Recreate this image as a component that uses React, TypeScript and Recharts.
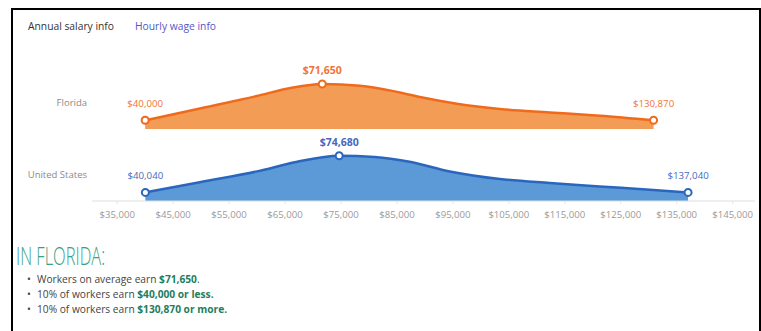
import { AreaChart, Area, XAxis, YAxis } from 'recharts'

// salary axis
const salaryTicks = [35000, 45000, 55000, 65000, 75000, 85000, 95000, 105000, 115000, 125000, 135000, 145000]
const salaryDomain = [30500, 149000]

// Florida: salary vs relative share of workers
const floridaSalary = [40000, 50000, 60000, 66000, 71650, 78400, 85500, 90000, 95700, 103400, 112300, 121250, 130870]
const floridaShare = [8.7, 20.8, 33, 41, 45, 43.3, 36.6, 31, 25.3, 20, 16.6, 13.3, 8.7]
const floridaMarked = [40000, 71650, 130870]

// United States
const usSalary = [40040, 50000, 60000, 67000, 74680, 81000, 87000, 94460, 103400, 112300, 121250, 130180, 137040]
const usShare = [8.6, 19.1, 29.6, 39, 45.3, 44, 39.6, 29.6, 22, 18, 14.6, 11.3, 8.6]
const usMarked = [40040, 74680, 137040]

const fmt = (v: number) => '$' + v.toLocaleString('en-US')
const FONT = '"Open Sans", sans-serif'

function rows(salary: number[], share: number[]) {
  return salary.map((s, i) => ({ salary: s, share: share[i] }))
}

function makeDot(marked: number[], stroke: string, label: string) {
  return (props: any) => {
    const { cx, cy, payload, index } = props
    if (!marked.includes(payload.salary)) return <g key={index} />
    const peak = marked[1] === payload.salary
    return (
      <g key={index}>
        <circle cx={cx} cy={cy} r={3.5} fill="#fff" stroke={stroke} strokeWidth={2} />
        <text
          x={cx}
          y={cy - (peak ? 10 : 13)}
          textAnchor="middle"
          fontFamily={FONT}
          fontSize={peak ? 10.5 : 9.7}
          fontWeight={peak ? 700 : 400}
          fill={label}
        >
          {fmt(payload.salary)}
        </text>
      </g>
    )
  }
}

function Band({ data, marked, fill, stroke, label, axis, top }: any) {
  return (
    <div style={{ position: 'absolute', left: 0, top }}>
      <AreaChart width={761} height={axis ? 110 : 80} data={data} margin={{ top: 30, right: 6, left: 92, bottom: 0 }}>
        <XAxis
          type="number"
          dataKey="salary"
          domain={salaryDomain}
          ticks={salaryTicks}
          hide={!axis}
          height={30}
          tickFormatter={fmt}
          tick={{ fontSize: 9.6, fill: '#9a9a9a', fontFamily: FONT }}
          tickLine={{ stroke: '#e6e6e6' }}
          tickSize={3}
          tickMargin={7}
          axisLine={{ stroke: '#dedede' }}
        />
        <YAxis hide domain={[0, 50]} />
        <Area
          type="monotone"
          dataKey="share"
          fill={fill}
          fillOpacity={1}
          stroke={stroke}
          strokeWidth={2.5}
          dot={makeDot(marked, stroke, label)}
          activeDot={false}
          isAnimationActive={false}
        />
      </AreaChart>
    </div>
  )
}

const rowLabel: React.CSSProperties = {
  position: 'absolute',
  right: 761 - 87,
  fontFamily: FONT,
  fontSize: 9.5,
  color: '#8a8a8a',
  whiteSpace: 'nowrap',
}

const bullet: React.CSSProperties = { position: 'relative', margin: 0, height: 15, lineHeight: '15px', paddingLeft: 37 }
const dotMark: React.CSSProperties = { position: 'absolute', left: 27, top: 0 }
const strong: React.CSSProperties = { color: '#1f7d60', fontWeight: 700 }

export default function App() {
  return (
    <div style={{ position: 'absolute', left: 0, top: 0, width: 761, height: 331, background: '#fff', overflow: 'hidden', fontFamily: FONT }}>
      <div style={{ position: 'absolute', left: 11, top: 8, width: 750, height: 340, border: '2px solid #000', boxSizing: 'border-box' }} />
      <div style={{ position: 'absolute', left: 28, top: 19, fontSize: 10.3, color: '#333' }}>Annual salary info</div>
      <div style={{ position: 'absolute', left: 135, top: 19, fontSize: 10.3, color: '#5257c4' }}>Hourly wage info</div>

      <div style={{ ...rowLabel, top: 96 }}>Florida</div>
      <div style={{ ...rowLabel, top: 168 }}>United States</div>

      <Band data={rows(floridaSalary, floridaShare)} marked={floridaMarked} fill="#f39c55" stroke="#f06a1c" label="#f07435" axis={false} top={49} />
      <Band data={rows(usSalary, usShare)} marked={usMarked} fill="#5b9ad7" stroke="#2a66bd" label="#4668c0" axis top={121} />

      <div style={{ position: 'absolute', left: 16, top: 238, fontSize: 25, fontWeight: 300, color: '#3a9f86', transform: 'scaleX(0.66)', transformOrigin: 'left', whiteSpace: 'nowrap' }}>
        IN FLORIDA:
      </div>
      <div style={{ position: 'absolute', left: 0, top: 272, fontSize: 10.2, color: '#444', whiteSpace: 'nowrap' }}>
        <div style={bullet}><span style={dotMark}>•</span>Workers on average earn <span style={strong}>$71,650</span>.</div>
        <div style={bullet}><span style={dotMark}>•</span>10% of workers earn <span style={strong}>$40,000 or less.</span></div>
        <div style={bullet}><span style={dotMark}>•</span>10% of workers earn <span style={strong}>$130,870 or more.</span></div>
      </div>
    </div>
  )
}
